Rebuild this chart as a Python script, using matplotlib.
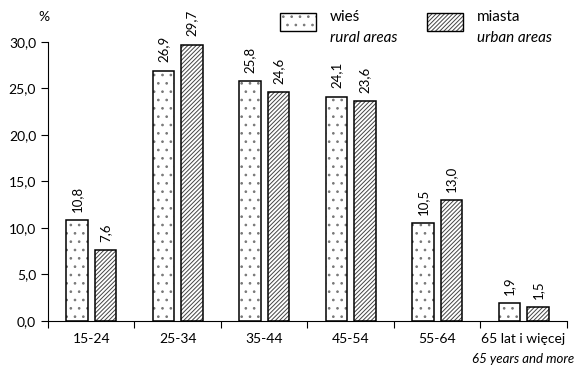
import matplotlib.pyplot as plt
from matplotlib.patches import Rectangle
import numpy as np

kategorie = ['15-24', '25-34', '35-44', '45-54', '55-64', '65 lat i więcej']
wies = [10.8, 26.9, 25.8, 24.1, 10.5, 1.9]
miasta = [7.6, 29.7, 24.6, 23.6, 13.0, 1.5]
yticks = [0, 5, 10, 15, 20, 25, 30]

plt.rcParams['font.family'] = ['Lato', 'DejaVu Sans']
plt.rcParams['hatch.linewidth'] = 0.7

def fmt(v):
    return ('%.1f' % v).replace('.', ',')

fig = plt.figure(figsize=(5.85, 3.68), dpi=100)
ax = fig.add_axes([0.082, 0.128, 0.887, 0.758])

x = np.arange(len(kategorie))
w = 0.25
off = 0.165
# wypelnienie (wzor) w szarym, obrys osobno na czarno
ax.bar(x - off, wies, w, color='white', edgecolor='#777777', hatch='..', linewidth=0)
ax.bar(x + off, miasta, w, color='white', edgecolor='#444444', hatch='////////', linewidth=0)
ax.bar(x - off, wies, w, fill=False, edgecolor='black', linewidth=1.1)
ax.bar(x + off, miasta, w, fill=False, edgecolor='black', linewidth=1.1)

for i in range(len(x)):
    ax.text(x[i] - off, wies[i] + 0.9, fmt(wies[i]), rotation=90, ha='center', va='bottom', fontsize=9.5)
    ax.text(x[i] + off, miasta[i] + 0.9, fmt(miasta[i]), rotation=90, ha='center', va='bottom', fontsize=9.5)

ax.set_xlim(-0.5, len(x) - 0.5)
ax.set_ylim(0, 30)
ax.set_yticks(yticks)
ax.set_yticklabels([fmt(v) for v in yticks], fontsize=10)
ax.set_xticks(np.arange(len(x) + 1) - 0.5)
ax.set_xticklabels([])
ax.tick_params(axis='x', length=5, direction='out')
ax.tick_params(axis='y', length=5, direction='out')
for i, k in enumerate(kategorie):
    ax.text(x[i], -1.3, k, ha='center', va='top', fontsize=10)
ax.text(x[-1], -3.4, '65 years and more', ha='center', va='top', fontsize=9.5, style='italic')

ax.spines['top'].set_visible(False)
ax.spines['right'].set_visible(False)
fig.text(0.075, 0.955, '%', ha='center', va='center', fontsize=10)

# legenda recznie
for (x0, hatch, c, t1, t2) in [(0.478, '..', '#777777', 'wieś', 'rural areas'),
                                (0.73, '////////', '#444444', 'miasta', 'urban areas')]:
    fig.patches.append(Rectangle((x0, 0.915), 0.062, 0.05, transform=fig.transFigure,
                                 facecolor='white', edgecolor=c, hatch=hatch, linewidth=0))
    fig.patches.append(Rectangle((x0, 0.915), 0.062, 0.05, transform=fig.transFigure,
                                 fill=False, edgecolor='black', linewidth=1.0))
    fig.text(x0 + 0.086, 0.955, t1, ha='left', va='center', fontsize=11)
    fig.text(x0 + 0.086, 0.897, t2, ha='left', va='center', fontsize=11, style='italic')

fig.savefig('out.png', dpi=100)
